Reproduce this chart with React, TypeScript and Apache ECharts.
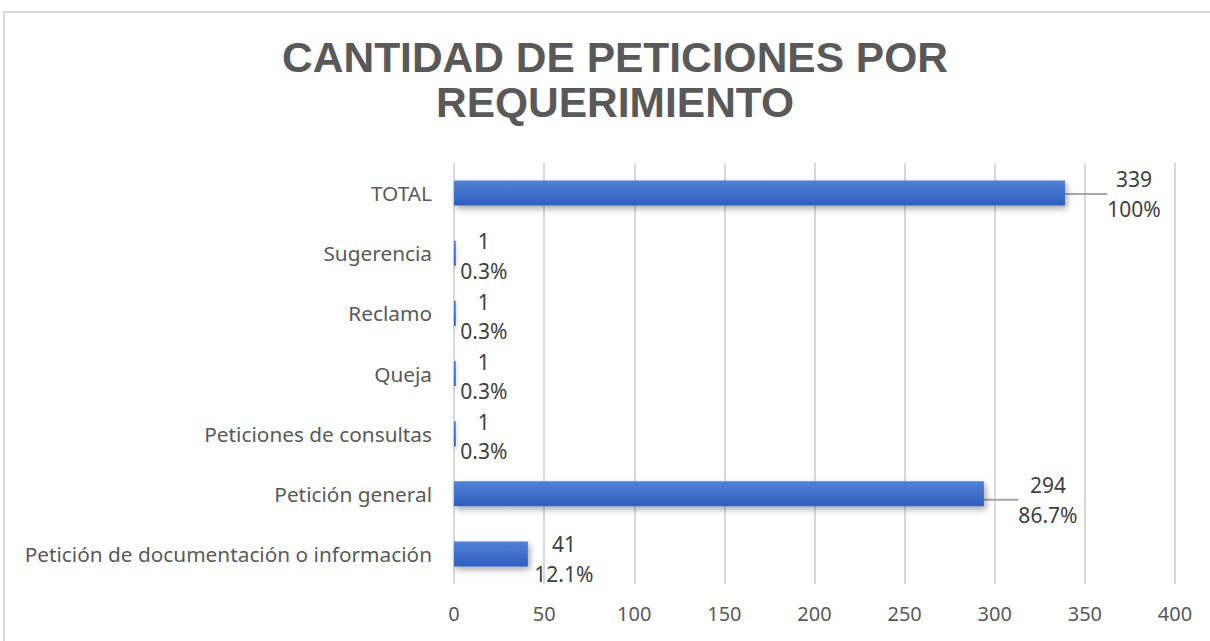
import React, { useEffect, useRef } from "react";
import * as echarts from "echarts";

const categories = [
  "Petición de documentación o información",
  "Petición general",
  "Peticiones de consultas",
  "Queja",
  "Reclamo",
  "Sugerencia",
  "TOTAL",
];
const values = [41, 294, 1, 1, 1, 1, 339];
const percentLabels = ["12.1%", "86.7%", "0.3%", "0.3%", "0.3%", "0.3%", "100%"];
const xTicks = [0, 50, 100, 150, 200, 250, 300, 350, 400];

const labelGap = [36, 64, 28, 28, 28, 28, 69];
const labelDy = [5, 6, 3, 3, 3, 3, 1];
const withLeader = [false, true, false, false, false, false, true];

export default function App() {
  const ref = useRef<HTMLDivElement>(null);
  useEffect(() => {
    if (!ref.current) return;
    const chart = echarts.init(ref.current, null, { renderer: "svg" });
    chart.setOption({
      animation: false,
      backgroundColor: "#ffffff",
      graphic: [
        {
          type: "rect",
          shape: { x: 4, y: 12, width: 1230, height: 700 },
          style: { fill: "none", stroke: "#d9d9d9", lineWidth: 2 },
          z: 100,
          silent: true,
        },
      ],
      title: {
        text: "CANTIDAD DE PETICIONES POR\nREQUERIMIENTO",
        left: 610,
        textAlign: "center",
        top: 30,
        textStyle: {
          fontFamily: "Liberation Sans, Arial, sans-serif",
          fontWeight: "bold",
          fontSize: 42.5,
          lineHeight: 45,
          color: "#595959",
        },
      },
      grid: { left: 454, right: 35, top: 163, bottom: 57, containLabel: false },
      xAxis: {
        type: "value",
        min: 0,
        max: 400,
        interval: 50,
        axisLine: { show: false },
        axisTick: { show: false },
        splitLine: { show: true, lineStyle: { color: "#d9d9d9", width: 2 } },
        axisLabel: {
          color: "#595959",
          fontSize: 20,
          fontFamily: "Noto Sans, sans-serif",
          margin: 19,
          formatter: (v: number) => (xTicks.includes(v) ? String(v) : ""),
        },
      },
      yAxis: {
        type: "category",
        data: categories,
        axisLine: { show: false },
        axisTick: { show: false },
        axisLabel: {
          color: "#595959",
          fontSize: 20.8,
          fontFamily: "Noto Sans, sans-serif",
          margin: 22,
        },
      },
      series: [
        {
          type: "bar",
          data: values.map((v, i) => ({
            value: v,
            labelLine: withLeader[i]
              ? { show: true, lineStyle: { color: "#a6a6a6", width: 2 } }
              : { show: false },
          })),
          barWidth: 25,
          itemStyle: {
            color: new echarts.graphic.LinearGradient(0, 0, 0, 1, [
              { offset: 0, color: "#5282d6" },
              { offset: 1, color: "#2f5fbf" },
            ]),
            shadowColor: "rgba(0,0,0,0.35)",
            shadowBlur: 6,
            shadowOffsetX: 2,
            shadowOffsetY: 3,
          },
          label: {
            show: true,
            position: "right",
            color: "#404040",
            fontSize: 21,
            fontFamily: "Noto Sans, sans-serif",
            lineHeight: 29.5,
            align: "center",
            formatter: (p: any) => `${values[p.dataIndex]}\n${percentLabels[p.dataIndex]}`,
          },
          labelLayout: (p: any) => {
            const i = p.dataIndex;
            return {
              x: p.rect.x + p.rect.width + labelGap[i],
              y: p.rect.y + p.rect.height / 2 + labelDy[i],
              align: "center",
              verticalAlign: "middle",
            };
          },
        },
      ],
    });
    return () => chart.dispose();
  }, []);
  return (
    <div
      ref={ref}
      style={{ position: "fixed", left: 0, top: 0, width: 1210, height: 641 }}
    />
  );
}
